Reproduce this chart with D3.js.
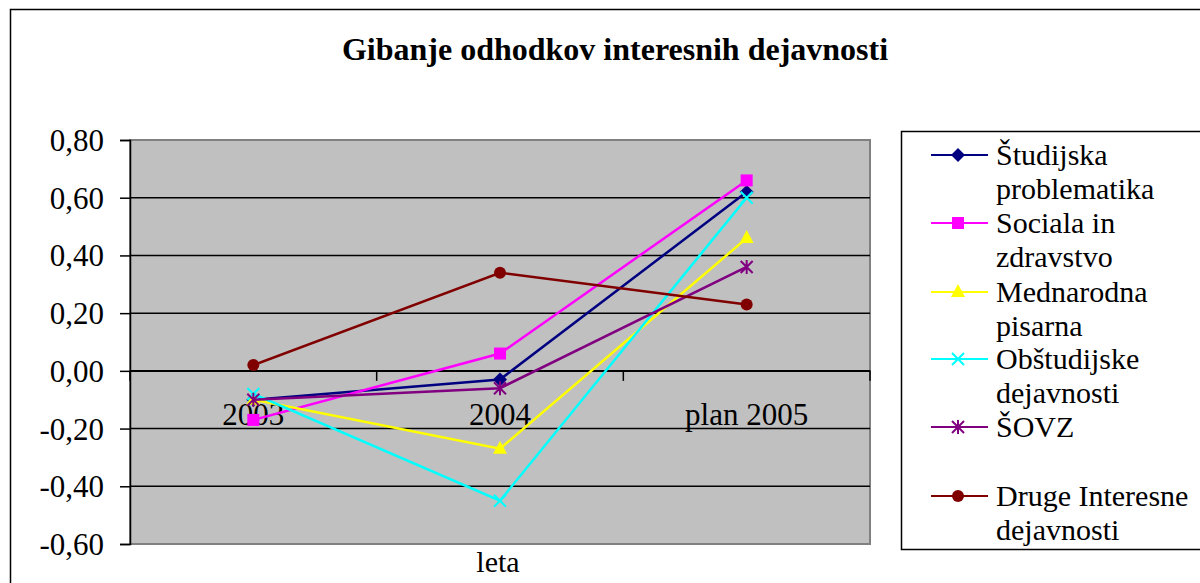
<!DOCTYPE html>
<html><head><meta charset="utf-8">
<script src="https://cdn.jsdelivr.net/npm/d3@7"></script>
<style>body{margin:0;background:#fff}svg{display:block}
svg text{font-family:"Liberation Serif","Liberation Sans",Arial,sans-serif !important;}</style>
</head><body>
<script>
const categories = ["2003", "2004", "plan 2005"];
const seriesNames = [
  ["Študijska", "problematika"],
  ["Sociala in", "zdravstvo"],
  ["Mednarodna", "pisarna"],
  ["Obštudijske", "dejavnosti"],
  ["ŠOVZ", ""],
  ["Druge Interesne", "dejavnosti"]
];
const studijska = [-0.10, -0.03, 0.62];
const sociala = [-0.17, 0.06, 0.66];
const mednarodna = [-0.10, -0.27, 0.46];
const obstudijske = [-0.08, -0.45, 0.60];
const sovz = [-0.10, -0.06, 0.36];
const druge = [0.02, 0.34, 0.23];
const yTicks = [-0.6, -0.4, -0.2, 0, 0.2, 0.4, 0.6, 0.8];
const titleText = "Gibanje odhodkov interesnih dejavnosti";
const xTitle = "leta";

const seriesValues = [studijska, sociala, mednarodna, obstudijske, sovz, druge];
const colors = ["#000080", "#ff00ff", "#ffff00", "#00ffff", "#800080", "#800000"];
const markers = ["diamond", "square", "triangle", "x", "star", "circle"];

const W = 1200, H = 583;
const svg = d3.select("body").append("svg").attr("width", W).attr("height", H);

// outer frame
svg.append("rect").attr("x", 10.5).attr("y", 9.5).attr("width", 1250).attr("height", 700)
  .attr("fill", "#fff").attr("stroke", "#000").attr("stroke-width", 1.5);

const L = 130, R = 870, T = 140, B = 544;
const x = d3.scaleBand().domain(categories).range([L, R]);
const y = d3.scaleLinear().domain([-0.6, 0.8]).range([B, T]);

svg.append("text").attr("x", 615).attr("y", 60).attr("text-anchor", "middle")
  .attr("font-weight", "bold").attr("font-size", 32).text(titleText);

// plot area
svg.append("rect").attr("x", L).attr("y", T).attr("width", R - L).attr("height", B - T)
  .attr("fill", "#c0c0c0").attr("stroke", "#808080").attr("stroke-width", 2);

// gridlines
svg.append("g").selectAll("line").data(yTicks.filter(d => d !== -0.6 && d !== 0.8)).join("line")
  .attr("x1", L).attr("x2", R).attr("y1", d => y(d)).attr("y2", d => y(d))
  .attr("stroke", "#000").attr("stroke-width", 1.5);

// y axis
const yAxis = d3.axisLeft(y).tickValues(yTicks).tickSize(10).tickPadding(16)
  .tickFormat(d => d3.format(".2f")(d).replace(".", ",").replace("−", "-"));
const gy = svg.append("g").attr("transform", `translate(${L},0)`).call(yAxis);
gy.select(".domain").attr("stroke", "#000").attr("stroke-width", 1.5);
gy.selectAll(".tick line").attr("stroke", "#000").attr("stroke-width", 1.5);
gy.selectAll("text").attr("font-size", 31).attr("fill", "#000").attr("dy", "0.34em");

// x axis at zero
const xAxis = d3.axisBottom(x).tickSize(0).tickPadding(32);
const gx = svg.append("g").attr("transform", `translate(0,${y(0)})`).call(xAxis);
gx.select(".domain").attr("stroke", "#000").attr("stroke-width", 1.5);
gx.selectAll("text").attr("font-size", 31).attr("fill", "#000");
// category boundary ticks
const bounds = categories.map(c => x(c)).concat([R]);
gx.append("g").selectAll("line").data(bounds).join("line")
  .attr("x1", d => d).attr("x2", d => d).attr("y1", 0).attr("y2", 10)
  .attr("stroke", "#000").attr("stroke-width", 1.5);

svg.append("text").attr("x", 498).attr("y", 572).attr("text-anchor", "middle")
  .attr("font-size", 30).text(xTitle);

function drawMarker(g, type, color, cx, cy) {
  if (type === "diamond") {
    g.append("path").attr("d", `M${cx},${cy-7}L${cx+7},${cy}L${cx},${cy+7}L${cx-7},${cy}Z`).attr("fill", color);
  } else if (type === "square") {
    g.append("rect").attr("x", cx-6).attr("y", cy-6).attr("width", 12).attr("height", 12).attr("fill", color);
  } else if (type === "triangle") {
    g.append("path").attr("d", `M${cx},${cy-8}L${cx+7},${cy+5}L${cx-7},${cy+5}Z`).attr("fill", color);
  } else if (type === "x") {
    g.append("path").attr("d", `M${cx-6},${cy-6}L${cx+6},${cy+6}M${cx+6},${cy-6}L${cx-6},${cy+6}`)
      .attr("stroke", color).attr("stroke-width", 2);
  } else if (type === "star") {
    g.append("path").attr("d", `M${cx-6},${cy-6}L${cx+6},${cy+6}M${cx+6},${cy-6}L${cx-6},${cy+6}M${cx},${cy-7}L${cx},${cy+7}`)
      .attr("stroke", color).attr("stroke-width", 2);
  } else {
    g.append("circle").attr("cx", cx).attr("cy", cy).attr("r", 6).attr("fill", color);
  }
}

const line = d3.line().x((d, i) => x(categories[i]) + x.bandwidth() / 2).y(d => y(d));
seriesValues.forEach((vals, si) => {
  const g = svg.append("g");
  g.append("path").attr("d", line(vals)).attr("fill", "none").attr("stroke", colors[si]).attr("stroke-width", 2.5);
  vals.forEach((v, i) => drawMarker(g, markers[si], colors[si], x(categories[i]) + x.bandwidth() / 2, y(v)));
});

// legend
svg.append("rect").attr("x", 901.5).attr("y", 131.5).attr("width", 320).attr("height", 418)
  .attr("fill", "#fff").attr("stroke", "#000").attr("stroke-width", 1.5);
const legY = [155, 223, 292, 359, 427, 496];
seriesNames.forEach((nm, si) => {
  const g = svg.append("g");
  const cy = legY[si];
  g.append("line").attr("x1", 931).attr("x2", 988).attr("y1", cy).attr("y2", cy).attr("stroke", colors[si]).attr("stroke-width", 2);
  drawMarker(g, markers[si], colors[si], 958, cy);
  const t = g.append("text").attr("font-size", 30).attr("x", 996).attr("y", cy + 10);
  t.append("tspan").attr("x", 996).text(nm[0]);
  if (nm[1]) t.append("tspan").attr("x", 996).attr("dy", 34).text(nm[1]);
});
</script>
</body></html>
